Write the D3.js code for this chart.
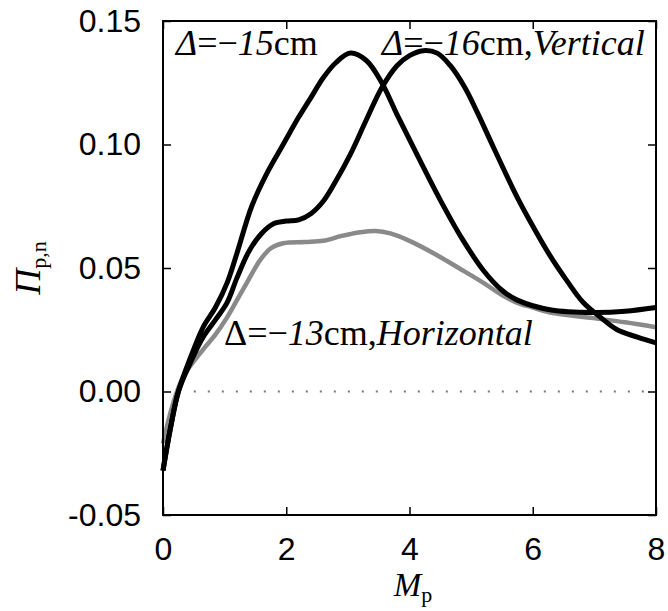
<!DOCTYPE html>
<html><head><meta charset="utf-8">
<script src="https://cdn.jsdelivr.net/npm/d3@7"></script>
<style>body{margin:0;background:#fff}svg{display:block}</style>
</head><body>
<svg id="chart" width="668" height="611"></svg>
<script>
// ---- data ----
const xTicks = [0, 2, 4, 6, 8];
const yTicks = [-0.05, 0.00, 0.05, 0.10, 0.15];
const yTickLabels = ["-0.05", "0.00", "0.05", "0.10", "0.15"];

// Δ = -15 cm
const mpA = [0, 0.12, 0.25, 0.45, 0.65, 0.85, 1.04, 1.2, 1.44, 1.7, 1.95, 2.2, 2.4, 2.6, 2.8, 3.04, 3.3, 3.55, 3.8, 4.1, 4.5, 4.85, 5.2, 5.5, 5.75, 6.3, 7.0, 7.5, 8.0];
const piA = [-0.032, -0.015, 0.0, 0.014, 0.026, 0.034, 0.044, 0.056, 0.075, 0.089, 0.100, 0.111, 0.119, 0.127, 0.133, 0.137, 0.134, 0.125, 0.112, 0.097, 0.0775, 0.062, 0.049, 0.041, 0.037, 0.033, 0.032, 0.0325, 0.034];

// Δ = -16 cm, Vertical
const mpB = [0, 0.12, 0.25, 0.45, 0.65, 0.85, 1.04, 1.2, 1.4, 1.6, 1.8, 2.0, 2.2, 2.4, 2.6, 2.8, 3.04, 3.3, 3.55, 3.8, 4.0, 4.22, 4.45, 4.66, 4.9, 5.1, 5.36, 5.74, 6.0, 6.28, 6.55, 6.82, 7.1, 7.37, 7.7, 8.0];
const piB = [-0.032, -0.015, 0.0, 0.012, 0.022, 0.029, 0.036, 0.046, 0.057, 0.064, 0.068, 0.069, 0.0695, 0.072, 0.077, 0.085, 0.096, 0.110, 0.123, 0.132, 0.136, 0.138, 0.137, 0.132, 0.123, 0.113, 0.099, 0.079, 0.067, 0.055, 0.045, 0.036, 0.030, 0.025, 0.022, 0.0197];

// Δ = -13 cm, Horizontal
const mpC = [0, 0.15, 0.33, 0.65, 0.85, 1.04, 1.2, 1.36, 1.57, 1.75, 1.95, 2.3, 2.6, 2.9, 3.2, 3.45, 3.69, 4.0, 4.39, 4.8, 5.2, 5.5, 5.74, 6.0, 6.28, 6.98, 7.5, 8.0];
const piC = [-0.021, -0.006, 0.006, 0.017, 0.023, 0.030, 0.037, 0.044, 0.053, 0.058, 0.060, 0.0605, 0.061, 0.063, 0.0645, 0.065, 0.064, 0.061, 0.056, 0.050, 0.044, 0.039, 0.036, 0.034, 0.032, 0.0297, 0.028, 0.026];

const zeroLine = [[0.5, 0], [8, 0]];

// ---- layout ----
const svg = d3.select("#chart");
const L = 163, R = 656, T = 21, B = 515;
const x = d3.scaleLinear().domain([0, 8]).range([L, R]);
const y = d3.scaleLinear().domain([-0.05, 0.15]).range([B, T]);

// zero dotted line
svg.append("path")
  .attr("d", d3.line().x(d => x(d[0])).y(d => y(d[1]))(zeroLine))
  .attr("stroke", "#777").attr("stroke-width", 2).attr("stroke-dasharray", "2,12").attr("fill", "none");

const line = d3.line().x(d => x(d[0])).y(d => y(d[1])).curve(d3.curveCatmullRom.alpha(0.5));
const zip = (a, b) => a.map((v, i) => [v, b[i]]);

svg.append("path").attr("d", line(zip(mpC, piC)))
  .attr("fill", "none").attr("stroke", "#8a8a8a").attr("stroke-width", 4.5);
svg.append("path").attr("d", line(zip(mpB, piB)))
  .attr("fill", "none").attr("stroke", "#000").attr("stroke-width", 5);
svg.append("path").attr("d", line(zip(mpA, piA)))
  .attr("fill", "none").attr("stroke", "#000").attr("stroke-width", 5);

// frame
svg.append("rect").attr("x", L).attr("y", T).attr("width", R - L).attr("height", B - T)
  .attr("fill", "none").attr("stroke", "#000").attr("stroke-width", 2);

// axes (ticks inward)
const tickLen = 8;
svg.append("g").attr("transform", `translate(0,${B})`)
  .call(d3.axisBottom(x).tickValues(xTicks).tickSize(-tickLen).tickPadding(22).tickFormat(d3.format("d")))
  .call(g => g.select(".domain").remove());
svg.append("g").attr("transform", `translate(0,${T})`)
  .call(d3.axisTop(x).tickValues(xTicks).tickSize(-tickLen).tickFormat(""))
  .call(g => g.select(".domain").remove());
svg.append("g").attr("transform", `translate(${L},0)`)
  .call(d3.axisLeft(y).tickValues(yTicks).tickSize(-tickLen).tickPadding(22).tickFormat((d, i) => yTickLabels[i]))
  .call(g => g.select(".domain").remove());
svg.append("g").attr("transform", `translate(${R},0)`)
  .call(d3.axisRight(y).tickValues(yTicks).tickSize(-tickLen).tickFormat(""))
  .call(g => g.select(".domain").remove());

svg.selectAll(".tick line").attr("stroke", "#000").attr("stroke-width", 1.5);
svg.selectAll(".tick text").attr("font-family", "Liberation Sans, Arial, sans-serif")
  .attr("font-size", 32).attr("fill", "#000");

// series labels
function label(xp, yp, size, parts) {
  const t = svg.append("text").attr("x", xp).attr("y", yp)
    .attr("font-family", "Liberation Serif, Times New Roman, serif").attr("font-size", size).attr("fill", "#000");
  parts.forEach(p => t.append("tspan").attr("font-style", p[1] ? "italic" : "normal").text(p[0]));
}
label(176, 55, 36, [["Δ", 1], ["=−", 0], ["15", 1], ["cm", 0]]);
label(382, 55, 36, [["Δ", 1], ["=−", 0], ["16", 1], ["cm,", 0], ["Vertical", 1]]);
label(224, 345, 36, [["Δ", 0], ["=−", 0], ["13", 1], ["cm,", 0], ["Horizontal", 1]]);

// axis titles
const xt = svg.append("text").attr("x", 413).attr("y", 596).attr("text-anchor", "middle")
  .attr("font-family", "Liberation Serif, Times New Roman, serif").attr("font-size", 33);
xt.append("tspan").attr("font-style", "italic").text("M");
xt.append("tspan").attr("font-size", 22).attr("dy", 6).text("p");

const yt = svg.append("text").attr("transform", "translate(40,268) rotate(-90)").attr("text-anchor", "middle")
  .attr("font-family", "Liberation Serif, Times New Roman, serif").attr("font-size", 36);
yt.append("tspan").attr("font-style", "italic").text("Π");
yt.append("tspan").attr("font-size", 22).attr("dy", 6).text("p,n");
</script>
</body></html>
